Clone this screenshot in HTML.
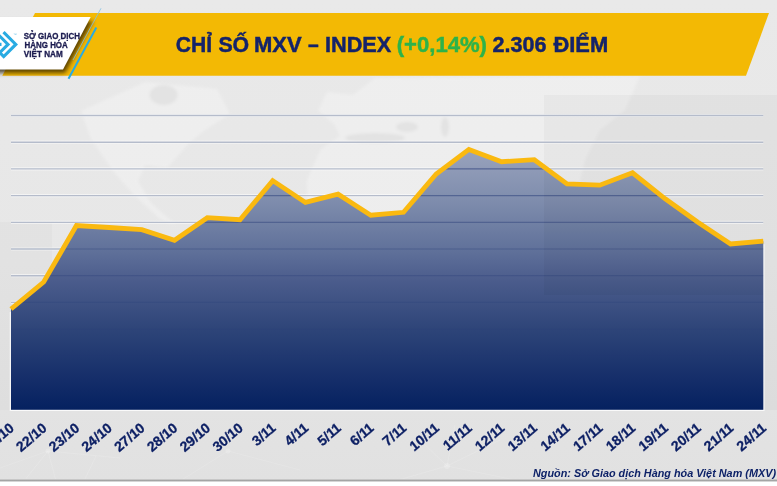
<!DOCTYPE html>
<html><head><meta charset="utf-8"><title>MXV Index</title>
<style>
html,body{margin:0;padding:0;background:#fff;}
body{width:777px;height:486px;overflow:hidden;position:relative;font-family:"Liberation Sans",sans-serif;}
svg{position:absolute;left:0;top:0;display:block}
.title{font-family:"Liberation Sans",sans-serif;font-weight:bold;font-size:22px;fill:#14236a;stroke:#14236a;stroke-width:0.45px}
.xl text{font-family:"Liberation Sans",sans-serif;font-weight:bold;font-style:italic;font-size:15px;fill:#0c1f64;stroke:#0c1f64;stroke-width:0.3px}
.src{font-family:"Liberation Sans",sans-serif;font-weight:bold;font-style:italic;font-size:11.2px;fill:#0e2268}
.logo text{font-family:"Liberation Sans",sans-serif;font-weight:bold;font-size:8.4px;fill:#1b1b4f;stroke:#1b1b4f;stroke-width:0.3px}
</style></head><body>
<svg width="777" height="486" viewBox="0 0 777 486">
<defs>
<linearGradient id="bg" x1="0" y1="0" x2="0" y2="1"><stop offset="0" stop-color="#e9e9e9"/><stop offset="0.55" stop-color="#e7e7e7"/><stop offset="1" stop-color="#e1e1e1"/></linearGradient>
<linearGradient id="ar" gradientUnits="userSpaceOnUse" x1="0" y1="149" x2="0" y2="409.7">
<stop offset="0" stop-color="#99a3bd"/>
<stop offset="0.196" stop-color="#7f8dad"/>
<stop offset="0.388" stop-color="#60719a"/>
<stop offset="0.504" stop-color="#4b5c8c"/>
<stop offset="0.696" stop-color="#2d4478"/>
<stop offset="0.888" stop-color="#142d69"/>
<stop offset="1" stop-color="#052160"/></linearGradient>
<linearGradient id="gf" gradientUnits="userSpaceOnUse" x1="0" y1="149" x2="0" y2="395">
<stop offset="0" stop-color="#fff" stop-opacity="1"/><stop offset="1" stop-color="#fff" stop-opacity="0"/></linearGradient>
<mask id="gm" maskUnits="userSpaceOnUse" x="0" y="0" width="777" height="486"><rect width="777" height="486" fill="url(#gf)"/></mask>
<clipPath id="ac"><polygon points="11.0,409.7 11.0,309.0 43.7,282.0 76.4,225.5 109.1,227.5 141.8,229.6 174.5,240.3 207.3,217.7 240.0,219.7 272.7,180.6 305.4,202.4 338.1,194.2 370.8,215.2 403.5,212.3 436.2,174.0 468.9,149.4 501.6,161.7 534.3,159.7 567.0,184.0 599.8,185.2 632.5,172.8 665.2,198.8 697.9,222.2 730.6,244.0 763.3,241.2 763.3,409.7"/></clipPath>
<linearGradient id="sh" x1="0" y1="0" x2="0" y2="1"><stop offset="0" stop-color="#d8d8d8"/><stop offset="0.6" stop-color="#9a9a9a"/><stop offset="1" stop-color="#ffffff"/></linearGradient>
<filter id="mb" x="-5%" y="-5%" width="110%" height="110%"><feGaussianBlur stdDeviation="1.6"/></filter>
<filter id="ds" x="-20%" y="-20%" width="150%" height="160%"><feGaussianBlur stdDeviation="2"/></filter>
</defs>
<rect width="777" height="481" fill="url(#bg)"/>
<g filter="url(#mb)" opacity="0.27">
<polygon fill="#fff" points="81,111 145,82 217,89 230,114 205,130 189,143 176,158 167,168 145,165 138,181 151,203 176,225 160,219 135,196 113,171 91,139"/>
<polygon fill="#fff" points="318,111 327,92 353,95 375,78 640,76 625,110 600,130 585,160 575,200 560,260 560,410 308,410 307,180 321,149 340,136 334,124"/>
<ellipse cx="163.6" cy="95" rx="14" ry="10" fill="#d6d6d6"/>
<ellipse cx="375" cy="138" rx="30" ry="5" fill="#d6d6d6"/>
<ellipse cx="407" cy="127" rx="11" ry="5" fill="#d6d6d6"/>
<ellipse cx="445" cy="127" rx="4" ry="10" fill="#d6d6d6"/>
</g>
<g stroke="#fff" stroke-opacity="0.16" stroke-width="0.8" fill="#fff" fill-opacity="0.2">
<line x1="48" y1="451" x2="0" y2="468"/><line x1="48" y1="451" x2="24" y2="481"/><line x1="48" y1="451" x2="56" y2="481"/><line x1="48" y1="451" x2="120" y2="458"/><line x1="84" y1="481" x2="96" y2="456"/>
<circle cx="48" cy="451" r="2.5" stroke="none"/>
<line x1="447" y1="466" x2="395" y2="481"/><line x1="447" y1="466" x2="420" y2="440"/><line x1="447" y1="466" x2="500" y2="440"/><line x1="447" y1="466" x2="520" y2="481"/><line x1="447" y1="466" x2="455" y2="425"/>
<circle cx="447" cy="466" r="3" stroke="none"/>
<circle cx="228" cy="451" r="2.5" stroke="none"/>
<line x1="228" y1="451" x2="180" y2="481"/><line x1="228" y1="451" x2="300" y2="470"/>
</g>
<rect y="479" width="777" height="3" fill="url(#sh)"/>
<rect y="482" width="777" height="4" fill="#fff"/>
<!-- banner -->
<polygon points="35,13 769,13 746,75.8 2.3,75.8" fill="#f3b904"/>
<!-- logo -->
<g class="logo">
<polygon points="-5,21 93,21 65,73 -5,73" fill="#2a1c00" opacity="0.75" filter="url(#ds)"/>
<polygon points="0,17 90.7,17 63,69.4 0,69.4" fill="#ffffff"/>
<line x1="101" y1="8.3" x2="73" y2="60" stroke="#7fc0e6" stroke-width="0.8"/>
<line x1="96.3" y1="27.4" x2="68.5" y2="78.8" stroke="#29abe2" stroke-width="2"/>
<g fill="none" stroke="#29abe2" stroke-width="3.1" stroke-linejoin="miter">
<polyline points="3.5,32.1 15.8,44.4 3.7,56.5 -1,51.8"/>
<polyline points="-2,34.4 8,44.4 -2,54.4"/>
<line x1="-1" y1="44.4" x2="1.5" y2="44.4"/>
</g>
<text x="13.6" y="35.6" style="font-size:3.6px;fill:#7cc8ee;stroke:none;font-weight:normal">™</text>
<text transform="translate(23.8,38.5) scale(0.945,1)">SỞ GIAO DỊCH</text>
<text transform="translate(24.6,47.8) scale(0.945,1)">HÀNG HÓA</text>
<text transform="translate(23.8,57.1) scale(0.97,1)">VIỆT NAM</text>
</g>
<g class="title"><text x="175.8" y="51.9" textLength="36.3" lengthAdjust="spacingAndGlyphs">CHỈ</text><text x="218.4" y="51.9" textLength="30.8" lengthAdjust="spacingAndGlyphs">SỐ</text><text x="254.0" y="51.9" textLength="47.7" lengthAdjust="spacingAndGlyphs">MXV</text><text x="308.0" y="51.9" textLength="10.7" lengthAdjust="spacingAndGlyphs">–</text><text x="325.0" y="51.9" textLength="66.3" lengthAdjust="spacingAndGlyphs">INDEX</text><text x="396.7" y="51.9" textLength="90.3" lengthAdjust="spacingAndGlyphs" style="fill:#2db34a;stroke:#2db34a">(+0,14%)</text><text x="492.4" y="51.9" textLength="54.0" lengthAdjust="spacingAndGlyphs">2.306</text><text x="553.4" y="51.9" textLength="54.8" lengthAdjust="spacingAndGlyphs">ĐIỂM</text></g>
<rect x="544" y="95" width="233" height="315" fill="#000" fill-opacity="0.028"/>
<rect x="0" y="222" width="52" height="188" fill="#000" fill-opacity="0.018"/>
<!-- grid -->
<g stroke="#fff" stroke-opacity="0.5" stroke-width="3.2"><line x1="11.0" x2="763.3" y1="115.5" y2="115.5"/><line x1="11.0" x2="763.3" y1="142.2" y2="142.2"/><line x1="11.0" x2="763.3" y1="168.9" y2="168.9"/><line x1="11.0" x2="763.3" y1="195.6" y2="195.6"/><line x1="11.0" x2="763.3" y1="222.3" y2="222.3"/><line x1="11.0" x2="763.3" y1="249.0" y2="249.0"/><line x1="11.0" x2="763.3" y1="275.7" y2="275.7"/><line x1="11.0" x2="763.3" y1="302.4" y2="302.4"/><line x1="11.0" x2="763.3" y1="329.1" y2="329.1"/><line x1="11.0" x2="763.3" y1="355.8" y2="355.8"/><line x1="11.0" x2="763.3" y1="382.5" y2="382.5"/><line x1="11.0" x2="763.3" y1="409.2" y2="409.2"/></g>
<g stroke="#b5bccb" stroke-width="1.35"><line x1="11.0" x2="763.3" y1="115.5" y2="115.5"/><line x1="11.0" x2="763.3" y1="142.2" y2="142.2"/><line x1="11.0" x2="763.3" y1="168.9" y2="168.9"/><line x1="11.0" x2="763.3" y1="195.6" y2="195.6"/><line x1="11.0" x2="763.3" y1="222.3" y2="222.3"/><line x1="11.0" x2="763.3" y1="249.0" y2="249.0"/><line x1="11.0" x2="763.3" y1="275.7" y2="275.7"/><line x1="11.0" x2="763.3" y1="302.4" y2="302.4"/><line x1="11.0" x2="763.3" y1="329.1" y2="329.1"/><line x1="11.0" x2="763.3" y1="355.8" y2="355.8"/><line x1="11.0" x2="763.3" y1="382.5" y2="382.5"/><line x1="11.0" x2="763.3" y1="409.2" y2="409.2"/></g>
<polyline points="10.4,312.0 10.4,410.3 763.9,410.3 763.9,244.2" fill="none" stroke="#fff" stroke-opacity="0.7" stroke-width="1.4"/>
<polygon points="11.0,409.7 11.0,309.0 43.7,282.0 76.4,225.5 109.1,227.5 141.8,229.6 174.5,240.3 207.3,217.7 240.0,219.7 272.7,180.6 305.4,202.4 338.1,194.2 370.8,215.2 403.5,212.3 436.2,174.0 468.9,149.4 501.6,161.7 534.3,159.7 567.0,184.0 599.8,185.2 632.5,172.8 665.2,198.8 697.9,222.2 730.6,244.0 763.3,241.2 763.3,409.7" fill="url(#ar)"/>
<g clip-path="url(#ac)"><g mask="url(#gm)" stroke="#273c78" stroke-opacity="0.62" stroke-width="1.2"><line x1="11.0" x2="763.3" y1="115.5" y2="115.5"/><line x1="11.0" x2="763.3" y1="142.2" y2="142.2"/><line x1="11.0" x2="763.3" y1="168.9" y2="168.9"/><line x1="11.0" x2="763.3" y1="195.6" y2="195.6"/><line x1="11.0" x2="763.3" y1="222.3" y2="222.3"/><line x1="11.0" x2="763.3" y1="249.0" y2="249.0"/><line x1="11.0" x2="763.3" y1="275.7" y2="275.7"/><line x1="11.0" x2="763.3" y1="302.4" y2="302.4"/><line x1="11.0" x2="763.3" y1="329.1" y2="329.1"/><line x1="11.0" x2="763.3" y1="355.8" y2="355.8"/><line x1="11.0" x2="763.3" y1="382.5" y2="382.5"/><line x1="11.0" x2="763.3" y1="409.2" y2="409.2"/></g></g>
<rect x="544" y="95" width="219" height="200" fill="#000" fill-opacity="0.03" clip-path="url(#ac)"/>
<polyline points="11.0,309.0 43.7,282.0 76.4,225.5 109.1,227.5 141.8,229.6 174.5,240.3 207.3,217.7 240.0,219.7 272.7,180.6 305.4,202.4 338.1,194.2 370.8,215.2 403.5,212.3 436.2,174.0 468.9,149.4 501.6,161.7 534.3,159.7 567.0,184.0 599.8,185.2 632.5,172.8 665.2,198.8 697.9,222.2 730.6,244.0 763.3,241.2" fill="none" stroke="#fab910" stroke-width="4.8" stroke-linejoin="miter" stroke-linecap="butt"/>
<g class="xl"><text transform="translate(15.4,429) scale(1,0.87) rotate(-45)" text-anchor="end">21/10</text><text transform="translate(48.1,429) scale(1,0.87) rotate(-45)" text-anchor="end">22/10</text><text transform="translate(80.8,429) scale(1,0.87) rotate(-45)" text-anchor="end">23/10</text><text transform="translate(113.5,429) scale(1,0.87) rotate(-45)" text-anchor="end">24/10</text><text transform="translate(146.2,429) scale(1,0.87) rotate(-45)" text-anchor="end">27/10</text><text transform="translate(178.9,429) scale(1,0.87) rotate(-45)" text-anchor="end">28/10</text><text transform="translate(211.7,429) scale(1,0.87) rotate(-45)" text-anchor="end">29/10</text><text transform="translate(244.4,429) scale(1,0.87) rotate(-45)" text-anchor="end">30/10</text><text transform="translate(277.1,429) scale(1,0.87) rotate(-45)" text-anchor="end">3/11</text><text transform="translate(309.8,429) scale(1,0.87) rotate(-45)" text-anchor="end">4/11</text><text transform="translate(342.5,429) scale(1,0.87) rotate(-45)" text-anchor="end">5/11</text><text transform="translate(375.2,429) scale(1,0.87) rotate(-45)" text-anchor="end">6/11</text><text transform="translate(407.9,429) scale(1,0.87) rotate(-45)" text-anchor="end">7/11</text><text transform="translate(440.6,429) scale(1,0.87) rotate(-45)" text-anchor="end">10/11</text><text transform="translate(473.3,429) scale(1,0.87) rotate(-45)" text-anchor="end">11/11</text><text transform="translate(506.0,429) scale(1,0.87) rotate(-45)" text-anchor="end">12/11</text><text transform="translate(538.7,429) scale(1,0.87) rotate(-45)" text-anchor="end">13/11</text><text transform="translate(571.4,429) scale(1,0.87) rotate(-45)" text-anchor="end">14/11</text><text transform="translate(604.2,429) scale(1,0.87) rotate(-45)" text-anchor="end">17/11</text><text transform="translate(636.9,429) scale(1,0.87) rotate(-45)" text-anchor="end">18/11</text><text transform="translate(669.6,429) scale(1,0.87) rotate(-45)" text-anchor="end">19/11</text><text transform="translate(702.3,429) scale(1,0.87) rotate(-45)" text-anchor="end">20/11</text><text transform="translate(735.0,429) scale(1,0.87) rotate(-45)" text-anchor="end">21/11</text><text transform="translate(767.7,429) scale(1,0.87) rotate(-45)" text-anchor="end">24/11</text></g>
<text class="src" x="533" y="477" textLength="243" lengthAdjust="spacingAndGlyphs">Nguồn: Sở Giao dịch Hàng hóa Việt Nam (MXV)</text>
</svg>
</body></html>
